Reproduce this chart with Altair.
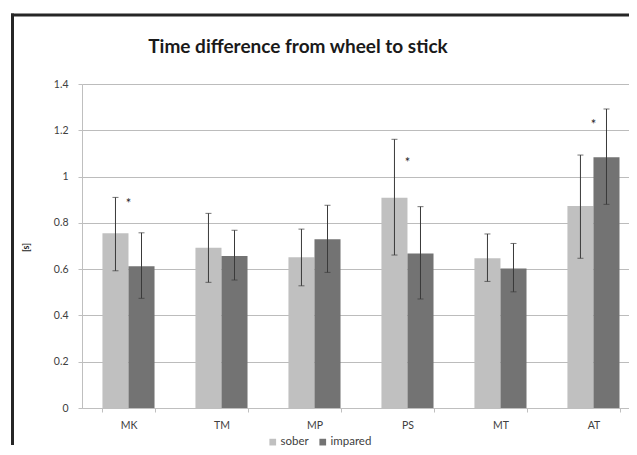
import altair as alt
import pandas as pd

categories = ["MK", "TM", "MP", "PS", "MT", "AT"]
groups = ["sober", "impared"]
sober = [0.755, 0.692, 0.651, 0.908, 0.647, 0.873]
sober_lo = [0.593, 0.543, 0.528, 0.661, 0.547, 0.647]
sober_hi = [0.910, 0.841, 0.773, 1.161, 0.752, 1.093]
impared = [0.613, 0.657, 0.729, 0.668, 0.603, 1.083]
impared_lo = [0.474, 0.553, 0.586, 0.471, 0.502, 0.880]
impared_hi = [0.757, 0.768, 0.876, 0.870, 0.711, 1.292]
star_cats = ["MK", "PS", "AT"]
star_y = [0.894, 1.071, 1.235]
y_ticks = [0, 0.2, 0.4, 0.6, 0.8, 1.0, 1.2, 1.4]
title_text = "Time difference from wheel to stick"

rows = []
for i, c in enumerate(categories):
    rows.append(dict(cat=c, group="sober", value=sober[i], lo=sober_lo[i], hi=sober_hi[i]))
    rows.append(dict(cat=c, group="impared", value=impared[i], lo=impared_lo[i], hi=impared_hi[i]))
df = pd.DataFrame(rows)
stars = pd.DataFrame({"cat": star_cats, "y": star_y, "t": ["*"] * len(star_cats)})

FONT = "Lato"
xscale = alt.Scale(domain=categories, paddingInner=0.44, paddingOuter=0.161, align=0.683)
xaxis = alt.Axis(title=None, labelAngle=0, tickBand="extent", domainColor="#bfbfbf",
                 tickColor="#bfbfbf", tickSize=4, labelColor="#404040", labelFont=FONT,
                 labelFontSize=10.5, labelPadding=8, grid=False)
yscale = alt.Scale(domain=[0, 1.4], nice=False, zero=True)
yaxis = alt.Axis(values=y_ticks, format="~g", title="[s]", titleFont=FONT, titleFontWeight="bold",
                 titleFontSize=9, titleColor="#262626", titleX=-57, titleY=163, titleAngle=-90,
                 titleAlign="center", titleBaseline="middle",
                 labelFont=FONT, labelFontSize=10.5, labelColor="#404040", labelPadding=10,
                 tickSize=4, tickColor="#bfbfbf", domainColor="#bfbfbf",
                 gridColor="#bcbcbc", gridWidth=1)
xoff = alt.XOffset("group:N", sort=groups, scale=alt.Scale(domain=groups, paddingInner=0, paddingOuter=0))

base = alt.Chart(df)

bars = base.mark_bar().encode(
    x=alt.X("cat:N", scale=xscale, sort=categories, axis=xaxis),
    xOffset=xoff,
    y=alt.Y("value:Q", scale=yscale, axis=yaxis),
    color=alt.Color("group:N", sort=groups,
                    scale=alt.Scale(domain=groups, range=["#c0c0c0", "#737373"]),
                    legend=alt.Legend(orient="none", legendX=185, legendY=352, direction="horizontal",
                                      title=None, symbolType="square", symbolSize=45,
                                      symbolStrokeWidth=0, labelFont=FONT, labelFontSize=11.5,
                                      labelColor="#404040", columnPadding=8, labelOffset=2)),
)

rules = base.mark_rule(color="#3a3a3a", strokeWidth=1).encode(
    x=alt.X("cat:N", scale=xscale, sort=categories, axis=xaxis),
    xOffset=xoff,
    y=alt.Y("lo:Q", scale=yscale, axis=yaxis),
    y2="hi:Q",
)

caps = base.transform_fold(["lo", "hi"], as_=["k", "v"]).mark_tick(
    color="#3a3a3a", size=6, thickness=1).encode(
    x=alt.X("cat:N", scale=xscale, sort=categories, axis=xaxis),
    xOffset=xoff,
    y=alt.Y("v:Q", scale=yscale, axis=yaxis),
)

star_layer = alt.Chart(stars).mark_text(fontSize=13, font=FONT, color="#262626",
                                        baseline="middle", dy=3).encode(
    x=alt.X("cat:N", scale=xscale, sort=categories, axis=xaxis),
    y=alt.Y("y:Q", scale=yscale, axis=yaxis),
    text="t:N",
)

title_layer = alt.Chart(pd.DataFrame({"t": [title_text]})).mark_text(
    font=FONT, fontSize=19, fontWeight="bold", color="#1a1a1a", align="center",
    baseline="alphabetic").encode(
    x=alt.value(216), y=alt.value(-31), text="t:N")

one = pd.DataFrame({"a": [0]})
frame_left = alt.Chart(one).mark_rule(stroke="#262626", strokeWidth=3).encode(
    x=alt.value(-69.5), y=alt.value(-70.5), y2=alt.value(361))
frame_top = alt.Chart(one).mark_rule(stroke="#262626", strokeWidth=3).encode(
    x=alt.value(-71), x2=alt.value(547), y=alt.value(-69))

chart = alt.layer(frame_left, frame_top, bars, rules, caps, star_layer, title_layer).properties(
    width=547, height=324,
    autosize=alt.AutoSizeParams(type="none"),
    padding={"left": 74, "top": 76, "right": 0, "bottom": 39},
    background="white",
).configure_view(strokeWidth=0)

chart.save("out.html", embed_options={"renderer": "svg", "actions": False})
